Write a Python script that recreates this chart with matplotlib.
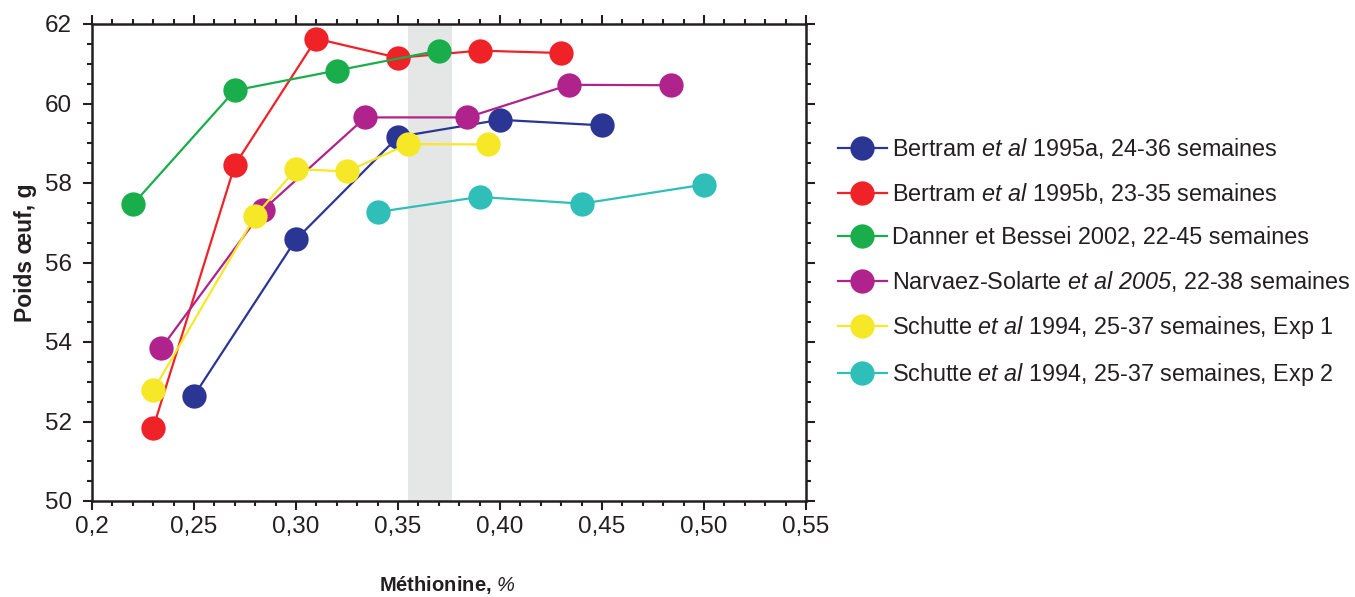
import matplotlib.pyplot as plt
from matplotlib.ticker import MultipleLocator, FixedLocator, FixedFormatter

plt.rcParams["font.family"] = ["Liberation Sans", "DejaVu Sans"]
plt.rcParams["mathtext.fontset"] = "custom"
plt.rcParams["mathtext.rm"] = "Liberation Sans"
plt.rcParams["mathtext.it"] = "Liberation Sans:italic"
# \mathsf used as a plain italic (keeps digits italic too)
plt.rcParams["mathtext.sf"] = "Liberation Sans:italic"

# data (methionine %, egg weight g)
bertram_a_x = [0.25, 0.30, 0.35, 0.40, 0.45]
bertram_a_y = [52.65, 56.58, 59.16, 59.59, 59.45]

bertram_b_x = [0.23, 0.27, 0.31, 0.35, 0.39, 0.43]
bertram_b_y = [51.84, 58.45, 61.63, 61.15, 61.33, 61.27]

danner_x = [0.22, 0.27, 0.32, 0.37]
danner_y = [57.46, 60.33, 60.83, 61.33]

narvaez_x = [0.234, 0.284, 0.334, 0.384, 0.434, 0.484]
narvaez_y = [53.85, 57.33, 59.65, 59.65, 60.47, 60.46]

schutte1_x = [0.23, 0.28, 0.30, 0.325, 0.355, 0.394]
schutte1_y = [52.78, 57.17, 58.35, 58.29, 58.98, 58.97]

schutte2_x = [0.34, 0.39, 0.44, 0.50]
schutte2_y = [57.27, 57.65, 57.48, 57.96]

band = (0.355, 0.3765)

series = [
    (bertram_a_x, bertram_a_y, "#2b3594", r"Bertram $\mathsf{et\ al}$ 1995a, 24-36 semaines"),
    (bertram_b_x, bertram_b_y, "#ee2227", r"Bertram $\mathsf{et\ al}$ 1995b, 23-35 semaines"),
    (danner_x, danner_y, "#1aad4b", "Danner et Bessei 2002, 22-45 semaines"),
    (narvaez_x, narvaez_y, "#b0228c", r"Narvaez-Solarte $\mathsf{et\ al\ 2005}$, 22-38 semaines"),
    (schutte1_x, schutte1_y, "#f6e827", r"Schutte $\mathsf{et\ al}$ 1994, 25-37 semaines, Exp 1"),
    (schutte2_x, schutte2_y, "#2fbfb8", r"Schutte $\mathsf{et\ al}$ 1994, 25-37 semaines, Exp 2"),
]

ink = "#231f20"

fig = plt.figure(figsize=(13.55, 5.97), dpi=100)
ax = fig.add_axes([92 / 1355, 1 - 501 / 597, 714 / 1355, 477 / 597])

ax.axvspan(*band, color="#e5e7e7", lw=0, zorder=0)

handles = []
for xs, ys, c, lab in series:
    h, = ax.plot(xs, ys, "-o", color=c, lw=1.6, ms=17.5, mec="none",
                 label=lab, zorder=3)
    handles.append(h)

ax.set_xlim(0.2, 0.55)
ax.set_ylim(50, 62)

xt = [0.2, 0.25, 0.30, 0.35, 0.40, 0.45, 0.50, 0.55]
ax.xaxis.set_major_locator(FixedLocator(xt))
ax.xaxis.set_major_formatter(FixedFormatter(["0,2", "0,25", "0,30", "0,35",
                                             "0,40", "0,45", "0,50", "0,55"]))
ax.xaxis.set_minor_locator(MultipleLocator(0.01))
ax.yaxis.set_major_locator(MultipleLocator(2))
ax.yaxis.set_minor_locator(MultipleLocator(0.5))

ax.tick_params(which="both", direction="out", top=True, right=True,
               width=1.5, colors=ink, labelcolor=ink, labelsize=17.5)
ax.tick_params(which="major", length=6.5)
ax.tick_params(which="minor", length=3.5)
ax.tick_params(axis="x", which="major", pad=4)
ax.tick_params(axis="y", which="major", pad=8)
for s in ax.spines.values():
    s.set_linewidth(1.8)
    s.set_color(ink)

ax.set_xlabel(r"Méthionine, $\mathsf{\%}$", fontsize=14.5, fontweight="bold",
              color=ink)
ax.xaxis.set_label_coords(0.497, -0.152)
ax.set_ylabel("Poids œuf, g", fontsize=16.5, fontweight="bold", color=ink)
ax.yaxis.set_label_coords(-0.077, 0.52)

fig.legend(handles=handles, loc="upper left", bbox_to_anchor=(838 / 1355, 1 - 136 / 597),
           frameon=False, fontsize=16.8, handlelength=2.1, handletextpad=0.2,
           labelspacing=0.86, borderpad=0, borderaxespad=0, labelcolor=ink)

fig.savefig("out.png", dpi=100)
